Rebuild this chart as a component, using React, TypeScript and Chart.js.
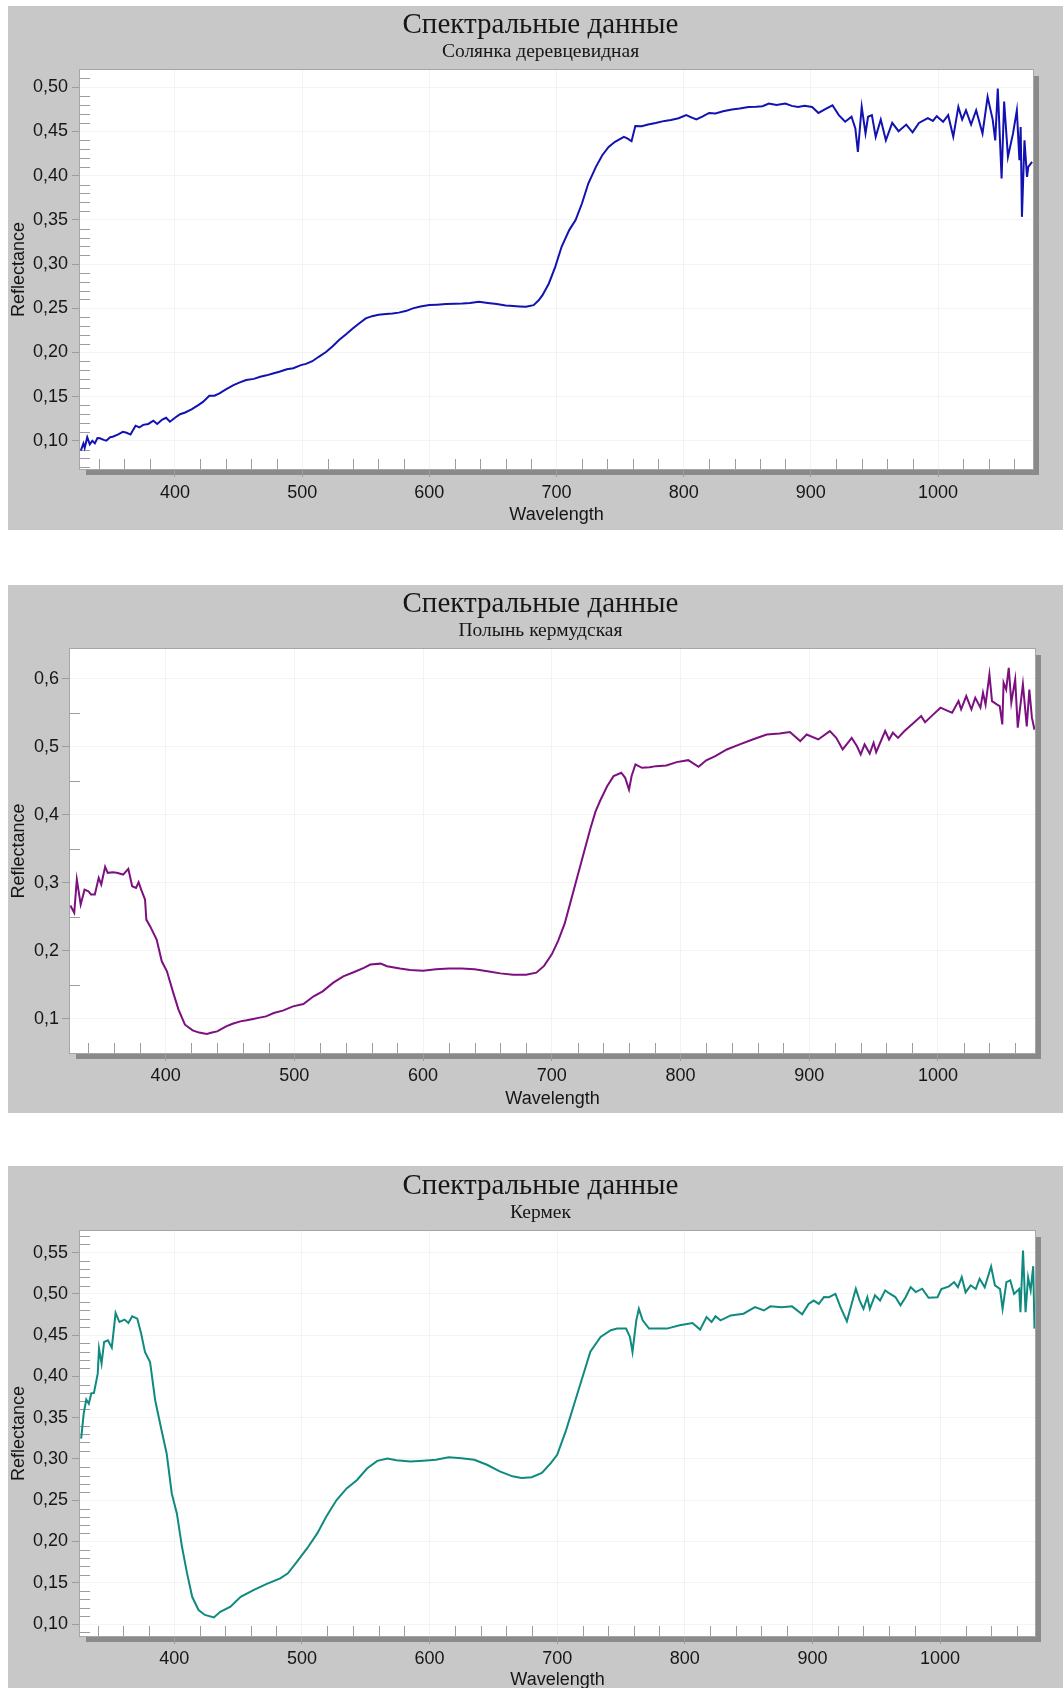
import React, { useEffect, useRef } from "react";
import { Chart, registerables } from "chart.js";

Chart.register(...registerables);

// ---------- data ----------
const xTicks = [400, 500, 600, 700, 800, 900, 1000];

// Солянка деревцевидная
const wlSalsola = [
  326, 328, 329, 331, 333, 335, 337, 339, 341, 344, 346, 349, 351, 355, 359, 362, 365, 369, 372, 375,
  379, 383, 386, 390, 393, 396, 400, 404, 408, 413, 418, 422, 427, 431, 435, 440, 446, 451, 456, 462,
  467, 472, 477, 482, 488, 493, 499, 503, 508, 513, 519, 524, 529, 535, 540, 545, 550, 555, 560, 566,
  571, 576, 582, 587, 593, 600, 606, 613, 620, 626, 632, 639, 646, 653, 660, 666, 671, 676, 682, 686,
  689, 694, 699, 704, 710, 715, 720, 725, 731, 736, 741, 746, 753, 756, 759, 762, 767, 772, 778, 785,
  790, 796, 802, 806, 810, 815, 820, 825, 831, 838, 844, 851, 857, 862, 867, 873, 880, 885, 890, 895,
  901, 906, 911, 917, 922, 927, 932, 935, 937, 940, 943, 945, 948, 951, 955, 959, 964, 969, 975, 980,
  985, 992, 996, 999, 1004, 1008, 1012, 1016, 1019, 1022, 1026, 1030, 1035, 1039, 1043, 1045, 1047, 1050, 1052, 1055,
  1059, 1062, 1064, 1065, 1066, 1068, 1070, 1071, 1074,
];
const reflSalsola = [
  0.089, 0.097, 0.092, 0.104, 0.096, 0.1, 0.097, 0.103, 0.1027, 0.101, 0.1, 0.104, 0.1045, 0.107, 0.11, 0.109, 0.107, 0.117, 0.115, 0.118,
  0.119, 0.1226, 0.119, 0.124, 0.126, 0.1215, 0.126, 0.13, 0.132, 0.1355, 0.14, 0.144, 0.151, 0.151, 0.1536, 0.158, 0.163, 0.166, 0.1687, 0.17,
  0.1724, 0.174, 0.176, 0.178, 0.1808, 0.182, 0.1856, 0.187, 0.19, 0.195, 0.2007, 0.207, 0.2139, 0.221, 0.2272, 0.233, 0.2385, 0.241, 0.2425, 0.2435,
  0.244, 0.245, 0.247, 0.2498, 0.252, 0.2535, 0.254, 0.2547, 0.255, 0.2554, 0.256, 0.2572, 0.256, 0.2547, 0.253, 0.2524, 0.252, 0.2516, 0.2535, 0.259,
  0.2648, 0.278, 0.2968, 0.3195, 0.3384, 0.3497, 0.3685, 0.3911, 0.41, 0.4232, 0.4326, 0.4383, 0.444, 0.442, 0.439, 0.4561, 0.456, 0.458, 0.4597, 0.462,
  0.463, 0.465, 0.4685, 0.466, 0.4636, 0.467, 0.471, 0.4703, 0.473, 0.4748, 0.476, 0.4778, 0.478, 0.4786, 0.4816, 0.48, 0.4816, 0.479, 0.4778, 0.479,
  0.4778, 0.471, 0.475, 0.4797, 0.4685, 0.461, 0.4667, 0.4535, 0.427, 0.478, 0.4478, 0.4667, 0.4685, 0.444, 0.4635, 0.44, 0.4597, 0.4503, 0.4578, 0.449,
  0.4597, 0.4652, 0.462, 0.4673, 0.461, 0.4685, 0.444, 0.4778, 0.4635, 0.474, 0.4578, 0.474, 0.4478, 0.4892, 0.4635, 0.44, 0.4986, 0.3968, 0.484, 0.4213,
  0.4478, 0.474, 0.4176, 0.455, 0.3534, 0.44, 0.3986, 0.41, 0.4157,
];

// Полынь кермудская
const wlArtemisia = [
  326, 327, 329, 331, 334, 337, 340, 342, 345, 348, 350, 353, 355, 359, 362, 367, 371, 374, 377, 379,
  381, 384, 385, 388, 393, 397, 401, 406, 410, 415, 421, 426, 432, 436, 440, 447, 452, 458, 463, 468,
  473, 478, 484, 491, 499, 507, 515, 522, 530, 538, 546, 554, 559, 567, 572, 582, 590, 600, 610, 620,
  630, 640, 650, 660, 670, 680, 688, 694, 700, 705, 710, 715, 720, 725, 730, 734, 738, 743, 748, 754,
  757, 760, 762, 765, 770, 776, 781, 789, 797, 806, 814, 820, 827, 836, 846, 856, 867, 877, 885, 893,
  898, 907, 916, 921, 926, 933, 937, 940, 943, 947, 950, 952, 959, 962, 965, 969, 974, 981, 987, 990,
  995, 1002, 1008, 1011, 1016, 1018, 1022, 1026, 1029, 1033, 1035, 1037, 1040, 1042, 1046, 1048, 1050, 1051, 1053, 1055,
  1057, 1060, 1062, 1066, 1069, 1071, 1073, 1075,
];
const reflArtemisia = [
  0.2666, 0.263, 0.256, 0.305, 0.268, 0.29, 0.2877, 0.283, 0.283, 0.3074, 0.2975, 0.3235, 0.3147, 0.3156, 0.3147, 0.3122, 0.3206, 0.295, 0.2926, 0.301,
  0.29, 0.2755, 0.246, 0.236, 0.2166, 0.1847, 0.17, 0.138, 0.1137, 0.0916, 0.0833, 0.08, 0.078, 0.08, 0.0818, 0.0891, 0.093, 0.0965, 0.098, 0.1,
  0.102, 0.1038, 0.1088, 0.1122, 0.1185, 0.122, 0.1333, 0.1406, 0.153, 0.1627, 0.1686, 0.175, 0.1799, 0.1813, 0.1774, 0.174, 0.172, 0.171, 0.173, 0.174,
  0.174, 0.173, 0.17, 0.167, 0.165, 0.165, 0.168, 0.178, 0.195, 0.215, 0.24, 0.275, 0.31, 0.345, 0.38, 0.405, 0.4225, 0.442, 0.4568, 0.4618,
  0.4544, 0.437, 0.457, 0.474, 0.469, 0.47, 0.4715, 0.4725, 0.4774, 0.4803, 0.4706, 0.48, 0.4862, 0.496, 0.5034, 0.5107, 0.518, 0.5196, 0.5215, 0.5083,
  0.518, 0.5107, 0.523, 0.5132, 0.496, 0.513, 0.501, 0.4887, 0.5034, 0.49, 0.5058, 0.492, 0.523, 0.5107, 0.5206, 0.513, 0.523, 0.535, 0.545, 0.536,
  0.545, 0.5574, 0.5524, 0.55, 0.567, 0.555, 0.5744, 0.555, 0.572, 0.5574, 0.5794, 0.562, 0.6063, 0.567, 0.562, 0.5597, 0.5328, 0.594, 0.584, 0.616,
  0.565, 0.599, 0.528, 0.5916, 0.53, 0.584, 0.5427, 0.525,
];

// Кермек
const wlLimonium = [
  327, 329, 331, 333, 335, 337, 340, 341, 343, 345, 348, 351, 354, 357, 361, 364, 367, 371, 374, 377,
  381, 385, 390, 394, 398, 402, 406, 410, 414, 419, 424, 431, 436, 444, 452, 462, 472, 483, 489, 496,
  504, 512, 519, 527, 535, 543, 551, 559, 567, 574, 585, 595, 605, 615, 625, 635, 645, 655, 665, 672,
  680, 688, 695, 700, 707, 714, 720, 726, 734, 742, 747, 754, 757, 759, 762, 764, 767, 772, 786, 796,
  806, 812, 817, 821, 824, 828, 836, 846, 855, 862, 867, 876, 884, 892, 897, 901, 905, 909, 913, 918,
  922, 927, 934, 937, 940, 943, 945, 949, 953, 957, 961, 965, 969, 973, 977, 981, 986, 991, 998, 1001,
  1007, 1011, 1014, 1017, 1020, 1024, 1028, 1031, 1035, 1040, 1043, 1047, 1049, 1052, 1055, 1058, 1062, 1063, 1065, 1067,
  1069, 1071, 1073, 1074,
];
const reflLimonium = [
  0.3248, 0.355, 0.372, 0.367, 0.3797, 0.38, 0.4035, 0.4338, 0.4156, 0.4418, 0.4438, 0.435, 0.4769, 0.466, 0.4689, 0.4648, 0.4729, 0.47, 0.452, 0.4297,
  0.4176, 0.3712, 0.3349, 0.3067, 0.2582, 0.234, 0.1936, 0.1614, 0.133, 0.117, 0.111, 0.108, 0.1149, 0.121, 0.133, 0.1412, 0.1484, 0.1553, 0.1614, 0.1754,
  0.1916, 0.2098, 0.23, 0.25, 0.2643, 0.2743, 0.2885, 0.2977, 0.3006, 0.2985, 0.297, 0.298, 0.299, 0.302, 0.301, 0.299, 0.293, 0.285, 0.279, 0.277,
  0.278, 0.283, 0.295, 0.305, 0.335, 0.37, 0.4, 0.43, 0.4479, 0.456, 0.458, 0.458, 0.4479, 0.4297, 0.468, 0.482, 0.468, 0.458, 0.458, 0.462,
  0.4648, 0.4568, 0.472, 0.466, 0.4729, 0.468, 0.474, 0.4761, 0.484, 0.48, 0.485, 0.484, 0.485, 0.4753, 0.488, 0.492, 0.488, 0.4962, 0.496, 0.5,
  0.484, 0.4668, 0.5064, 0.492, 0.482, 0.496, 0.482, 0.4983, 0.492, 0.5043, 0.5, 0.4962, 0.4862, 0.496, 0.5083, 0.5023, 0.5064, 0.4954, 0.496, 0.506,
  0.5092, 0.5144, 0.5083, 0.5205, 0.502, 0.5105, 0.506, 0.5185, 0.508, 0.5333, 0.5105, 0.506, 0.482, 0.5144, 0.5165, 0.5, 0.506, 0.478, 0.5527, 0.478,
  0.52, 0.5043, 0.5337, 0.458,
];

const yTicksSalsola = [0.1, 0.15, 0.2, 0.25, 0.3, 0.35, 0.4, 0.45, 0.5];
const yTicksArtemisia = [0.1, 0.2, 0.3, 0.4, 0.5, 0.6];
const yTicksLimonium = [0.1, 0.15, 0.2, 0.25, 0.3, 0.35, 0.4, 0.45, 0.5, 0.55];

// ---------- styling ----------
const PANEL_BG = "#c8c8c8";
const SHADOW = "#8a8a8a";
const FRAME = "#a6a6a6";
const TICK = "#9c9c9c";
const GRID = "#f3f3f3";
const TEXT = "#161616";
const SANS = "'Liberation Sans', Arial, sans-serif";
const SERIF = "'Liberation Serif', 'Times New Roman', serif";

type PanelProps = {
  subtitle: string;
  wl: number[];
  refl: number[];
  color: string;
  yTicks: number[];
  yMinorStep: number;
  decimals: number;
  xMin: number;
  xMax: number;
  yMin: number;
  yMax: number;
  width: number;
  height: number;
  leftAxisW: number;
  rightGapW: number;
  bottomAxisH: number;
  xTickPad: number;
  xTitlePad: number;
  yTickPad: number;
};

const near = (a: number, b: number) => Math.abs(a - b) < 1e-6;

// Plot frame: drop shadow, white plot area, thin border and inner minor ticks
const framePlugin = {
  id: "plotFrame",
  beforeDraw(chart: any) {
    const { ctx, chartArea: a } = chart;
    const w = a.right - a.left;
    const h = a.bottom - a.top;
    ctx.save();
    ctx.fillStyle = SHADOW;
    ctx.fillRect(a.left + 6, a.top + 6, w, h);
    ctx.fillStyle = "#ffffff";
    ctx.fillRect(a.left, a.top, w, h);
    ctx.restore();
  },
  beforeDatasetsDraw(chart: any, _args: any, opts: any) {
    const { ctx, chartArea: a, scales } = chart;
    const xs = scales.x;
    const ys = scales.y;
    ctx.save();
    ctx.strokeStyle = FRAME;
    ctx.lineWidth = 1;
    ctx.strokeRect(Math.round(a.left) - 0.5, Math.round(a.top) - 0.5, a.right - a.left + 1, a.bottom - a.top + 1);

    ctx.strokeStyle = TICK;
    ctx.beginPath();
    const yStep: number = opts.yMinorStep;
    const yMajor: number[] = opts.yMajor;
    for (let k = Math.ceil(ys.min / yStep - 1e-6); k * yStep <= ys.max + 1e-9; k++) {
      const v = k * yStep;
      if (yMajor.some((m) => near(m, v))) continue;
      const py = Math.round(ys.getPixelForValue(v)) + 0.5;
      if (py < a.top || py > a.bottom) continue;
      ctx.moveTo(a.left, py);
      ctx.lineTo(a.left + 10, py);
    }
    const xStep: number = opts.xMinorStep;
    for (let k = Math.ceil(xs.min / xStep); k * xStep <= xs.max; k++) {
      const v = k * xStep;
      if (v % 100 === 0) continue;
      const px = Math.round(xs.getPixelForValue(v)) + 0.5;
      ctx.moveTo(px, a.bottom);
      ctx.lineTo(px, a.bottom - 10);
    }
    ctx.stroke();
    ctx.restore();
  },
};

function SpectrumPanel(p: PanelProps) {
  const ref = useRef<HTMLCanvasElement | null>(null);

  useEffect(() => {
    if (!ref.current) return;
    const points = p.wl.map((x, i) => ({ x, y: p.refl[i] }));
    const chart = new Chart(ref.current, {
      type: "line",
      data: {
        datasets: [
          {
            data: points,
            borderColor: p.color,
            borderWidth: 2,
            pointRadius: 0,
            tension: 0,
            fill: false,
            xAxisID: "x",
            yAxisID: "y",
          },
        ],
      },
      options: {
        responsive: false,
        animation: false,
        devicePixelRatio: 1,
        layout: { padding: { left: 10, right: 0, top: 0, bottom: 0 } },
        plugins: {
          legend: { display: false },
          tooltip: { enabled: false },
          title: {
            display: true,
            text: "Спектральные данные",
            color: TEXT,
            font: { family: SERIF, size: 29, weight: "normal", lineHeight: 1 },
            padding: { top: 4.5, bottom: 0 },
          },
          subtitle: {
            display: true,
            text: p.subtitle,
            color: TEXT,
            font: { family: SERIF, size: 19.5, weight: "normal", lineHeight: 1 },
            padding: { top: 2.35, bottom: 8.65 },
          },
          plotFrame: { yMinorStep: p.yMinorStep, yMajor: p.yTicks, xMinorStep: 20 },
        } as any,
        scales: {
          x: {
            type: "linear",
            position: "bottom",
            min: p.xMin,
            max: p.xMax,
            afterBuildTicks: (s: any) => {
              s.ticks = xTicks.map((v) => ({ value: v }));
            },
            afterFit: (s: any) => {
              s.height = p.bottomAxisH;
            },
            ticks: {
              color: TEXT,
              font: { family: SANS, size: 18, lineHeight: 1 },
              padding: p.xTickPad,
              maxRotation: 0,
              autoSkip: false,
              callback: (v: any) => String(v),
            },
            grid: { color: GRID, tickColor: TICK, tickLength: 8, lineWidth: 1 },
            border: { display: false },
            title: {
              display: true,
              text: "Wavelength",
              color: TEXT,
              font: { family: SANS, size: 18, lineHeight: 1 },
              padding: { top: 0, bottom: p.xTitlePad },
            },
          },
          y: {
            type: "linear",
            position: "left",
            min: p.yMin,
            max: p.yMax,
            afterBuildTicks: (s: any) => {
              s.ticks = p.yTicks.map((v) => ({ value: v }));
            },
            afterFit: (s: any) => {
              s.width = p.leftAxisW;
            },
            ticks: {
              color: TEXT,
              font: { family: SANS, size: 18, lineHeight: 1 },
              padding: p.yTickPad,
              autoSkip: false,
              callback: (v: any) => Number(v).toFixed(p.decimals).replace(".", ","),
            },
            grid: { color: GRID, tickColor: TICK, tickLength: 8, lineWidth: 1 },
            border: { display: false },
            title: {
              display: true,
              text: "Reflectance",
              color: TEXT,
              font: { family: SANS, size: 18, lineHeight: 1 },
              padding: { top: -8, bottom: 0 },
            },
          },
          gap: {
            type: "linear",
            position: "right",
            display: true,
            grid: { display: false, drawTicks: false },
            ticks: { display: false },
            border: { display: false },
            afterFit: (s: any) => {
              s.width = p.rightGapW;
            },
          },
        },
      } as any,
      plugins: [framePlugin],
    });
    return () => chart.destroy();
  }, []);

  return <canvas ref={ref} width={p.width} height={p.height} style={{ display: "block" }} />;
}

const panels: (PanelProps & { top: number; boxH: number; canvasOffset: number })[] = [
  {
    top: 6, boxH: 524, canvasOffset: 0,
    subtitle: "Солянка деревцевидная",
    wl: wlSalsola, refl: reflSalsola, color: "#1212b2",
    yTicks: yTicksSalsola, yMinorStep: 0.01, decimals: 2,
    xMin: 325.3, xMax: 1074.7, yMin: 0.068, yMax: 0.5196,
    width: 1055, height: 524, leftAxisW: 62, rightGapW: 30, bottomAxisH: 61,
    xTickPad: 7, xTitlePad: 6, yTickPad: 4,
  },
  {
    top: 585, boxH: 528, canvasOffset: 0,
    subtitle: "Полынь кермудская",
    wl: wlArtemisia, refl: reflArtemisia, color: "#7c1080",
    yTicks: yTicksArtemisia, yMinorStep: 0.05, decimals: 1,
    xMin: 325.7, xMax: 1075.4, yMin: 0.05, yMax: 0.6436,
    width: 1055, height: 528, leftAxisW: 52, rightGapW: 28, bottomAxisH: 60,
    xTickPad: 6, xTitlePad: 5, yTickPad: 3,
  },
  {
    top: 1166, boxH: 540, canvasOffset: 1,
    subtitle: "Кермек",
    wl: wlLimonium, refl: reflLimonium, color: "#0f8a7e",
    yTicks: yTicksLimonium, yMinorStep: 0.01, decimals: 2,
    xMin: 326.1, xMax: 1074.4, yMin: 0.0855, yMax: 0.5763,
    width: 1055, height: 529, leftAxisW: 62, rightGapW: 28, bottomAxisH: 60,
    xTickPad: 6, xTitlePad: 7, yTickPad: 4,
  },
];

export default function App() {
  return (
    <div style={{ position: "relative", width: 1063, height: 1688, overflow: "hidden", background: "#ffffff" }}>
      <style>{"body{margin:0}"}</style>
      {panels.map((p, i) => (
        <div
          key={i}
          style={{ position: "absolute", left: 8, top: p.top, width: 1055, height: p.boxH, background: PANEL_BG }}
        >
          <div style={{ position: "absolute", left: 0, top: p.canvasOffset }}>
            <SpectrumPanel {...p} />
          </div>
        </div>
      ))}
    </div>
  );
}
